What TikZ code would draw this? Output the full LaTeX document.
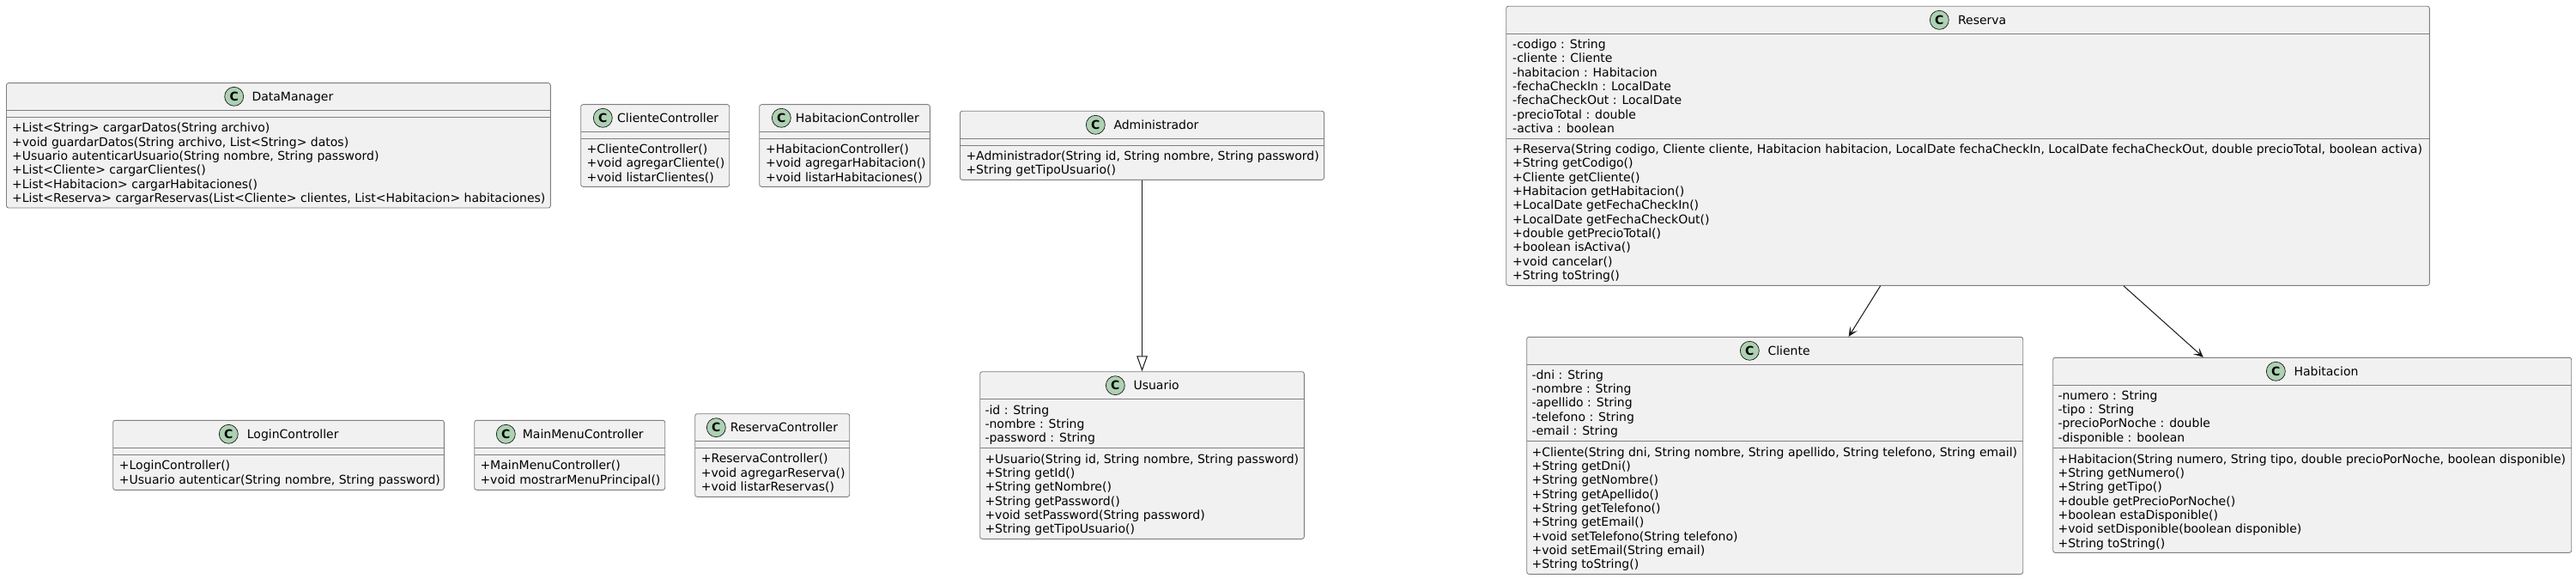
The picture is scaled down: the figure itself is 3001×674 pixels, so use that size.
\documentclass[tikz,border=0pt]{standalone}
\usepackage{fontspec}
\setmainfont{DejaVu Sans}
\usetikzlibrary{fit,arrows.meta}
\definecolor{boxfill}{HTML}{F1F1F1}
\definecolor{boxline}{HTML}{7F7F7F}
\definecolor{spot}{HTML}{ADD1B2}
\definecolor{ink}{HTML}{181818}
\tikzset{
  classbox/.style={draw=boxline,fill=boxfill,line width=0.9pt,rounded corners=2.5pt,inner sep=0pt},
  sepline/.style={draw=boxline,line width=0.9pt},
  spotc/.style={circle,draw=ink,fill=spot,line width=0.7pt,minimum size=22pt,inner sep=0pt,
    font=\fontsize{14}{14}\selectfont\bfseries},
  titletext/.style={anchor=base west,inner sep=0pt,font=\fontsize{14}{16.3}\selectfont,text=black},
  members/.style={anchor=north west,inner sep=0pt,align=left,yshift=6.3pt,
    font=\fontsize{14}{16.3}\selectfont,text=black},
  assoc/.style={draw=ink,line width=1pt,-{Stealth[length=11pt,width=10pt,inset=5.5pt]}},
  inherit/.style={draw=ink,line width=1pt,-{Triangle[open,length=18pt,width=12.6pt,fill=white]}}
}
% name, x1, y1, x2, y2, list of separator y
\newcommand{\clsbox}[6]{%
  \coordinate (#1a) at (#2,#3);
  \coordinate (#1b) at (#4,#5);
  \node[classbox,fit=(#1a)(#1b)] (#1) {};
  \foreach \sy in {#6} {\draw[sepline] (#2,\sy) -- (#4,\sy);}
}
% name, circle x, circle y, title x, title
\newcommand{\clshead}[5]{%
  \node[spotc] (#1c) at (#2,#3) {C};
  \node[titletext,yshift=-5pt] (#1t) at (#4,#3) {#5};
}
% name, x, first line centre y, content
\newcommand{\clstext}[4]{\node[members] (#1) at (#2,#3) {\rule{0pt}{11pt}#4};}
\begin{document}
\begin{tikzpicture}[x=1pt,y=-1pt]
\useasboundingbox (0,0) rectangle (3001,674);

\clsbox{dm}{7.5}{96.7}{641.3}{242}{128.3,136.3}
\clshead{dm}{272.7}{112.3}{293.3}{DataManager}
\clstext{dmo}{14}{149}{+List<String> cargarDatos(String archivo)\\
+void guardarDatos(String archivo, List<String> datos)\\
+Usuario autenticarUsuario(String nombre, String password)\\
+List<Cliente> cargarClientes()\\
+List<Habitacion> cargarHabitaciones()\\
+List<Reserva> cargarReservas(List<Cliente> clientes, List<Habitacion> habitaciones)}

\clsbox{cc}{676.7}{121.7}{849.7}{217.3}{153.3,161.3}
\clshead{cc}{702.3}{137.3}{719}{ClienteController}
\clstext{cco}{683.5}{173.5}{+ClienteController()\\
+void agregarCliente()\\
+void listarClientes()}

\clsbox{hc}{884.7}{121.7}{1083.3}{217.3}{153.3,161.3}
\clshead{hc}{910.3}{137.3}{926.7}{HabitacionController}
\clstext{hco}{892}{173.5}{+HabitacionController()\\
+void agregarHabitacion()\\
+void listarHabitaciones()}

\clsbox{ad}{1118.5}{129.3}{1542.5}{209.3}{161.3,169.3}
\clshead{ad}{1276.3}{145.3}{1297.3}{Administrador}
\clstext{ado}{1125.3}{181.5}{+Administrador(String id, String nombre, String password)\\
+String getTipoUsuario()}

\clsbox{lc}{131.7}{489.3}{517.3}{570.3}{521.3,529.3}
\clshead{lc}{266.3}{505.3}{287.7}{LoginController}
\clstext{lco}{138.7}{542}{+LoginController()\\
+Usuario autenticar(String nombre, String password)}

\clsbox{mm}{552.7}{489.3}{774.7}{570.3}{521.3,529.3}
\clshead{mm}{589.3}{505.3}{608.7}{MainMenuController}
\clstext{mmo}{559.3}{542}{+MainMenuController()\\
+void mostrarMenuPrincipal()}

\clsbox{rc}{809.7}{481.7}{989.7}{578.3}{513.3,521.3}
\clshead{rc}{834.3}{497.7}{850.7}{ReservaController}
\clstext{rco}{816.7}{534}{+ReservaController()\\
+void agregarReserva()\\
+void listarReservas()}

\clsbox{us}{1141.7}{432.7}{1519.3}{627.3}{464.3,521.3}
\clshead{us}{1299.3}{448.7}{1320.3}{Usuario}
\clstext{usa}{1147.3}{477.3}{-id : String\\
-nombre : String\\
-password : String}
\clstext{uso}{1147.3}{534.3}{+Usuario(String id, String nombre, String password)\\
+String getId()\\
+String getNombre()\\
+String getPassword()\\
+void setPassword(String password)\\
+String getTipoUsuario()}

\clsbox{re}{1754.7}{7.3}{2830.3}{332.3}{39.3,161.7}
\clshead{re}{2259.3}{23.3}{2280.8}{Reserva}
\clstext{rea}{1762}{51.7}{-codigo : String\\
-cliente : Cliente\\
-habitacion : Habitacion\\
-fechaCheckIn : LocalDate\\
-fechaCheckOut : LocalDate\\
-precioTotal : double\\
-activa : boolean}
\clstext{reo}{1762}{173.7}{+Reserva(String codigo, Cliente cliente, Habitacion habitacion, LocalDate fechaCheckIn, LocalDate fechaCheckOut, double precioTotal, boolean activa)\\
+String getCodigo()\\
+Cliente getCliente()\\
+Habitacion getHabitacion()\\
+LocalDate getFechaCheckIn()\\
+LocalDate getFechaCheckOut()\\
+double getPrecioTotal()\\
+boolean isActiva()\\
+void cancelar()\\
+String toString()}

\clsbox{cl}{1778.7}{392.3}{2356.7}{668.3}{424.3,513.3}
\clshead{cl}{2038.3}{408.3}{2059.3}{Cliente}
\clstext{cla}{1784.3}{436.3}{-dni : String\\
-nombre : String\\
-apellido : String\\
-telefono : String\\
-email : String}
\clstext{clo}{1784.3}{526.3}{+Cliente(String dni, String nombre, String apellido, String telefono, String email)\\
+String getDni()\\
+String getNombre()\\
+String getApellido()\\
+String getTelefono()\\
+String getEmail()\\
+void setTelefono(String telefono)\\
+void setEmail(String email)\\
+String toString()}

\clsbox{ha}{2391.7}{416.3}{2995.7}{643.3}{448.3,521.3}
\clshead{ha}{2651.3}{432.3}{2672.3}{Habitacion}
\clstext{haa}{2397.3}{460.3}{-numero : String\\
-tipo : String\\
-precioPorNoche : double\\
-disponible : boolean}
\clstext{hao}{2397.3}{534.3}{+Habitacion(String numero, String tipo, double precioPorNoche, boolean disponible)\\
+String getNumero()\\
+String getTipo()\\
+double getPrecioPorNoche()\\
+boolean estaDisponible()\\
+void setDisponible(boolean disponible)\\
+String toString()}

\draw[inherit] (ad.south) -- (us.north);
\draw[assoc] (re) -- (cl);
\draw[assoc] (re) -- (ha);
\end{tikzpicture}
\end{document}
